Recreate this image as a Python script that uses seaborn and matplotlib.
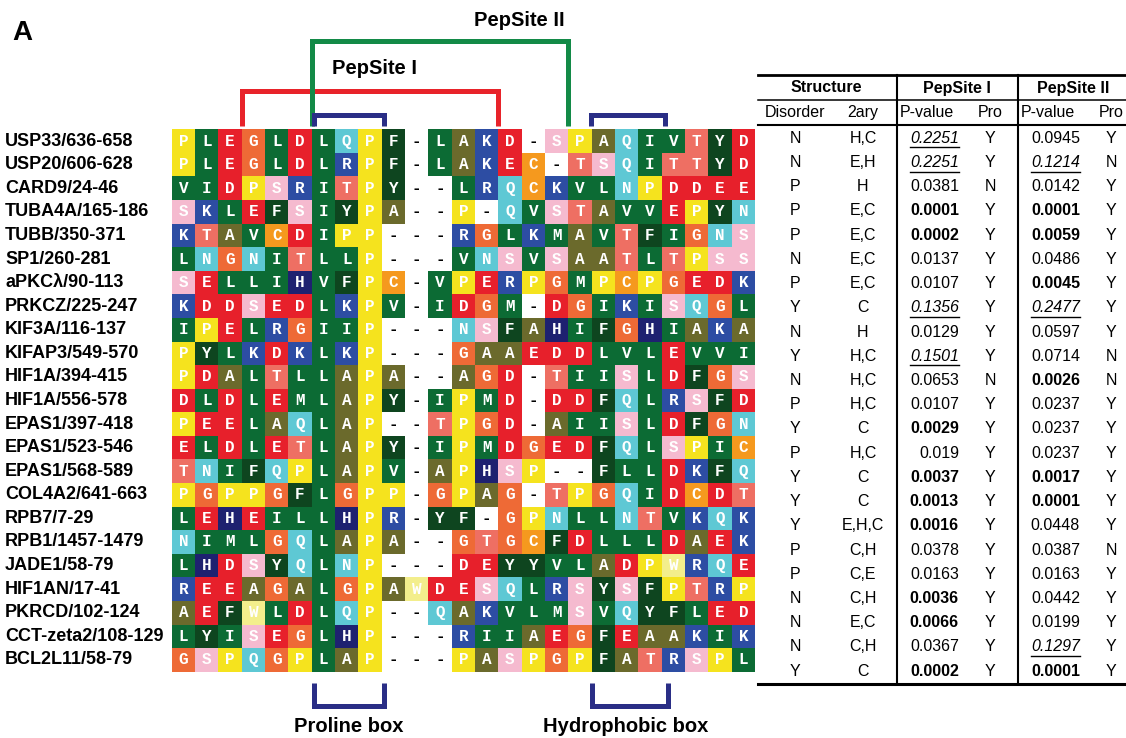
import numpy as np
import pandas as pd
import matplotlib
matplotlib.use("Agg")
import matplotlib.pyplot as plt
import matplotlib.transforms as mtrans
from matplotlib.colors import ListedColormap
import seaborn as sns

# ---------------- data ----------------
names = ["USP33/636-658", "USP20/606-628", "CARD9/24-46", "TUBA4A/165-186",
         "TUBB/350-371", "SP1/260-281", "aPKC\u03bb/90-113", "PRKCZ/225-247",
         "KIF3A/116-137", "KIFAP3/549-570", "HIF1A/394-415", "HIF1A/556-578",
         "EPAS1/397-418", "EPAS1/523-546", "EPAS1/568-589", "COL4A2/641-663",
         "RPB7/7-29", "RPB1/1457-1479", "JADE1/58-79", "HIF1AN/17-41",
         "PKRCD/102-124", "CCT-zeta2/108-129", "BCL2L11/58-79"]

seqs = ["PLEGLDLQPF-LAKD-SPAQIVTYD",
        "PLEGLDLRPF-LAKEC-TSQITTYD",
        "VIDPSRITPY--LRQCKVLNPDDEE",
        "SKLEFSIYPA--P-QVSTAVVEPYN",
        "KTAVCDIPP---RGLKMAVTFIGNS",
        "LNGNITLLP---VNSVSAATLTPSS",
        "SELLIHVFPC-VPERPGMPCPGEDK",
        "KDDSEDLKPV-IDGM-DGIKISQGL",
        "IPELRGIIP---NSFAHIFGHIAKA",
        "PYLKDKLKP---GAAEDDLVLEVVI",
        "PDALTLLAPA--AGD-TIISLDFGS",
        "DLDLEMLAPY-IPMD-DDFQLRSFD",
        "PEELAQLAP--TPGD-AIISLDFGN",
        "ELDLETLAPY-IPMDGEDFQLSPIC",
        "TNIFQPLAPV-APHSP--FLLDKFQ",
        "PGPPGFLGPP-GPAG-TPGQIDCDT",
        "LEHEILLHPR-YF-GPNLLNTVKQK",
        "NIMLGQLAPA--GTGCFDLLLDAEK",
        "LHDSYQLNP---DEYYVLADPWRQE",
        "REEAGALGPAWDESQLRSYSFPTRP",
        "AEFWLDLQP--QAKVLMSVQYFLED",
        "LYISEGLHP---RIIAEGFEAAKIK",
        "GSPQGPLAP---PASPGPFATRSPL"]

disorder = ["N", "N", "P", "P", "P", "N", "P", "Y", "N", "Y", "N", "P",
            "Y", "P", "Y", "Y", "Y", "P", "P", "N", "N", "N", "Y"]
secondary = ["H,C", "E,H", "H", "E,C", "E,C", "E,C", "E,C", "C", "H", "H,C",
             "H,C", "H,C", "C", "H,C", "C", "C", "E,H,C", "C,H", "C,E", "C,H",
             "E,C", "C,H", "C"]
pval1 = ["0.2251", "0.2251", "0.0381", "0.0001", "0.0002", "0.0137", "0.0107",
         "0.1356", "0.0129", "0.1501", "0.0653", "0.0107", "0.0029", "0.019",
         "0.0037", "0.0013", "0.0016", "0.0378", "0.0163", "0.0036", "0.0066",
         "0.0367", "0.0002"]
pro1 = ["Y", "Y", "N", "Y", "Y", "Y", "Y", "Y", "Y", "Y", "N", "Y", "Y", "Y",
        "Y", "Y", "Y", "Y", "Y", "Y", "Y", "Y", "Y"]
pval2 = ["0.0945", "0.1214", "0.0142", "0.0001", "0.0059", "0.0486", "0.0045",
         "0.2477", "0.0597", "0.0714", "0.0026", "0.0237", "0.0237", "0.0237",
         "0.0017", "0.0001", "0.0448", "0.0387", "0.0163", "0.0442", "0.0199",
         "0.1297", "0.0001"]
pro2 = ["Y", "N", "Y", "Y", "Y", "Y", "Y", "Y", "Y", "N", "N", "Y", "Y", "Y",
        "Y", "Y", "Y", "N", "Y", "Y", "Y", "Y", "Y"]

# residue colour classes
class_residues = ["-", "P", "LIVM", "FY", "DE", "G", "T", "NQ", "S", "KR", "H", "A", "C", "W"]
class_colors = ["#FFFFFF", "#F5E31E", "#0C6B34", "#0E451F", "#E7202B", "#EE6A36",
                "#EE6F63", "#5EC8D4", "#F5BACF", "#2D4DA3", "#1E2170", "#6B6A2C",
                "#F5991E", "#F3EE8C"]

# ---------------- figure ----------------
W, H = 1126, 738
fig = plt.figure(figsize=(W / 100, H / 100), dpi=100)
fig.patch.set_facecolor("white")

res2cls = {r: i for i, grp in enumerate(class_residues) for r in grp}
codes = pd.DataFrame([[res2cls[c] for c in s] for s in seqs], index=names)
letters = np.array([list(s) for s in seqs])

x0, x1 = 171.7, 755.0
y0, y1 = 129.3, 671.7
ax = fig.add_axes([x0 / W, 1 - y1 / H, (x1 - x0) / W, (y1 - y0) / H])
sns.heatmap(codes, ax=ax, cmap=ListedColormap(class_colors), vmin=-0.5,
            vmax=len(class_colors) - 0.5, cbar=False, annot=letters, fmt="",
            annot_kws={"fontfamily": "Liberation Mono", "fontweight": "bold",
                       "fontsize": 11.5},
            xticklabels=False, yticklabels=False, linewidths=0)
for t in ax.texts:
    t.set_color("black" if t.get_text() == "-" else "white")
ax.set_xlabel("")
ax.set_ylabel("")

# row labels
lab_tr = mtrans.blended_transform_factory(fig.transFigure, ax.transData)
for i, n in enumerate(names):
    ax.text(5 / W, i + 0.5, n, transform=lab_tr, ha="left", va="center",
            fontsize=13, fontweight="bold", family=["Liberation Sans", "DejaVu Sans"],
            color="black")

# brackets (in alignment column/row units)
red, green, navy = "#E8232A", "#138A47", "#2A2E86"
kw = dict(clip_on=False, solid_joinstyle="miter", solid_capstyle="butt", lw=3.6)
ax.plot([3, 3, 14, 14], [-0.12, -1.64, -1.64, -0.12], color=red, **kw)
ax.plot([6, 6, 17, 17], [-0.12, -3.76, -3.76, -0.12], color=green, **kw)
ax.plot([6.12, 6.12, 9.1, 9.1], [-0.12, -0.6, -0.6, -0.12], color=navy, **kw)
ax.plot([17.95, 17.95, 21.15, 21.15], [-0.12, -0.6, -0.6, -0.12], color=navy, **kw)
ax.plot([6.12, 6.12, 9.12, 9.12], [23.48, 24.45, 24.45, 23.48], color=navy, **kw)
ax.plot([18.0, 18.0, 21.25, 21.25], [23.48, 24.45, 24.45, 23.48], color=navy, **kw)

# overlay axes in pixel coordinates
ov = fig.add_axes([0, 0, 1, 1])
ov.set_xlim(0, W)
ov.set_ylim(H, 0)
ov.axis("off")

tf = "Liberation Sans"
ov.text(22, 33, "A", fontsize=20, fontweight="bold", family=tf, ha="center", va="center")
ov.text(519, 21, "PepSite II", fontsize=14.5, fontweight="bold", family=tf, ha="center", va="center")
ov.text(375, 69, "PepSite I", fontsize=14.5, fontweight="bold", family=tf, ha="center", va="center")
ov.text(349, 727, "Proline box", fontsize=14.5, fontweight="bold", family=tf, ha="center", va="center")
ov.text(626, 727, "Hydrophobic box", fontsize=14.5, fontweight="bold", family=tf, ha="center", va="center")

# ---------------- table ----------------
tx0, tx1 = 758, 1126
vx1, vx2 = 896.7, 1017.7
ov.plot([tx0, tx1], [75, 75], color="black", lw=2.0)
ov.plot([tx0, tx1], [99.5, 99.5], color="black", lw=1.1)
ov.plot([tx0, tx1], [124.5, 124.5], color="black", lw=1.5)
ov.plot([tx0, tx1], [683.5, 683.5], color="black", lw=2.2)
ov.plot([vx1, vx1], [75, 683.5], color="black", lw=1.5)
ov.plot([vx2, vx2], [75, 683.5], color="black", lw=1.5)

fs = 11.5
for label, xc in [("Structure", 826.7), ("PepSite I", 956.7), ("PepSite II", 1073)]:
    ov.text(xc, 88, label, fontsize=fs, fontweight="bold", family=tf, ha="center", va="center")
for label, xc in [("Disorder", 795), ("2ary", 863), ("P-value", 926.7), ("Pro", 990),
                  ("P-value", 1048), ("Pro", 1111)]:
    ov.text(xc, 112.5, label, fontsize=fs, family=tf, ha="center", va="center")

underlined = []
for i in range(len(names)):
    y = 138.3 + 24.22 * i
    ov.text(795, y, disorder[i], fontsize=fs, family=tf, ha="center", va="center")
    ov.text(863, y, secondary[i], fontsize=fs, family=tf, ha="center", va="center")
    ov.text(990, y, pro1[i], fontsize=fs, family=tf, ha="center", va="center")
    ov.text(1111, y, pro2[i], fontsize=fs, family=tf, ha="center", va="center")
    for val, xr in [(pval1[i], 959), (pval2[i], 1080)]:
        v = float(val)
        weight = "bold" if v < 0.01 else "normal"
        style = "italic" if v > 0.1 else "normal"
        t = ov.text(xr, y, val, fontsize=fs, family=tf, ha="right", va="center",
                    fontweight=weight, fontstyle=style)
        if v > 0.1:
            underlined.append((t, y))

fig.canvas.draw()
rend = fig.canvas.get_renderer()
inv = ov.transData.inverted()
for t, y in underlined:
    bb = t.get_window_extent(rend)
    (xa, _), (xb, _) = inv.transform([[bb.x0, bb.y0], [bb.x1, bb.y1]])
    ov.plot([min(xa, xb), max(xa, xb)], [y + 9, y + 9], color="black", lw=1.0)

fig.savefig("out.png", dpi=100, facecolor="white")
